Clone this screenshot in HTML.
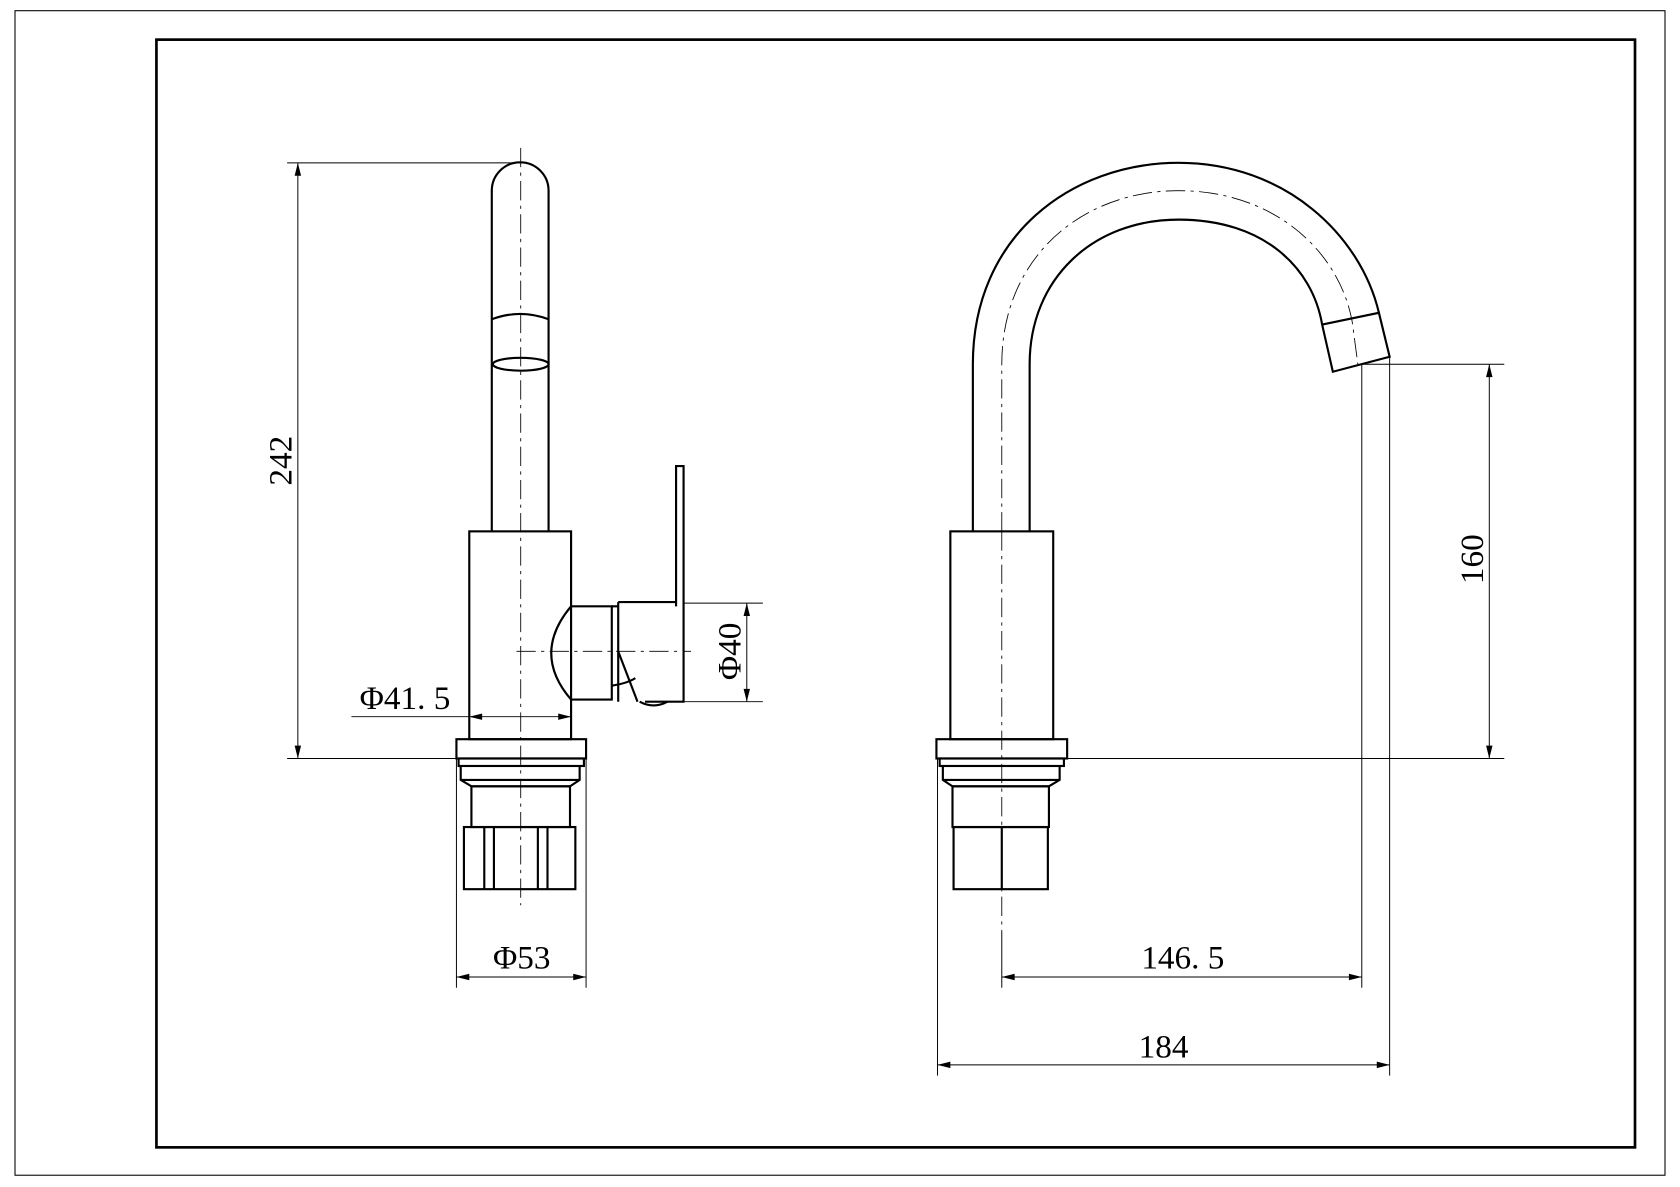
<!DOCTYPE html>
<html><head><style>html,body{margin:0;padding:0;background:#fff}svg{display:block}</style></head><body>
<svg width="1680" height="1187" viewBox="0 0 1568 1108" preserveAspectRatio="none" xmlns="http://www.w3.org/2000/svg" font-family="Liberation Serif, serif" font-size="31" fill="none" stroke="#000">
<rect x="14" y="10" width="1540" height="1087" stroke-width="1"/>
<rect x="146" y="37" width="1380" height="1034" stroke-width="2.5"/>
<!-- centerlines -->
<g stroke-width="0.8" stroke-dasharray="18,5,3,5">
<line x1="486" y1="138" x2="486" y2="845"/>
<line x1="935" y1="496" x2="935" y2="870"/>
<line x1="482" y1="608" x2="645" y2="608"/>
<path d="M935,496 V340 C935,240 1010,178 1100,178 C1190,178 1250,235 1262,300 L1268,345"/>
</g>
<!-- left view -->
<g stroke-width="2">
<path d="M459,496 V178 A26.5,26.5 0 0 1 512,178 V496"/>
<path d="M459,298 Q486,288 512,298"/>
<ellipse cx="486" cy="340" rx="26" ry="6"/>
<rect x="438" y="496" width="95" height="194"/>
<path d="M631,566 V435 H638 V655 H602"/>
<path d="M577,562 H631 M577,562 V655"/>
<path d="M533,566 H571 V653 H533 M533,566 Q496,610 533,653"/>
<path d="M571,566 H577 M577,608 L595,655 M571,640 Q585,638 593,633"/>
<path d="M597,655 Q610,662 623,655"/>
<rect x="426" y="690" width="121" height="18"/>
<rect x="428" y="708" width="117" height="7"/>
<path d="M430,715 V728 L440,734 H532 L541,728 V715 M430,728 H541"/>
<rect x="440" y="734" width="92" height="38"/>
<rect x="433" y="772" width="104" height="58"/>
<path d="M452,772 V830 M461,772 V830 M502,772 V830 M511,772 V830"/>
</g>
<!-- right view -->
<g stroke-width="2">
<rect x="887" y="496" width="96" height="194"/>
<path d="M908,496 V340 C908,220 1000,152 1100,152 C1200,152 1270,220 1287,292"/>
<path d="M961,496 V340 C961,260 1020,205 1100,205 C1180,205 1225,250 1234,303"/>
<path d="M1234,303 L1287,292 L1297,333 L1244,347 Z"/>
<rect x="874" y="690" width="122" height="18"/>
<rect x="877" y="708" width="116" height="7"/>
<path d="M880,715 V728 L889,734 H979 L989,728 V715 M880,728 H989"/>
<rect x="889" y="734" width="90" height="38"/>
<rect x="890" y="772" width="88" height="58"/>
<line x1="935" y1="772" x2="935" y2="830"/>
</g>
<!-- dimension lines -->
<g stroke-width="0.9">
<path d="M268,152 H486 M268,708 H426 M278,152 V708"/>
<path d="M328,669 H533"/>
<path d="M638,563 H712 M638,655 H712 M697,563 V655"/>
<path d="M426,708 V922 M547,708 V922 M426,912 H547"/>
<path d="M1270,340 H1404 M996,708 H1404 M1390,340 V708"/>
<path d="M1271,340 V922 M935,870 V922 M935,912 H1271"/>
<path d="M875,708 V1004 M1297,333 V1004 M875,994 H1297"/>
</g>
<g fill="#000" stroke="none">
<path d="M278,152 l-3,12 h6z M278,708 l-3,-12 h6z"/>
<path d="M438,669 l12,-3 v6z M533,669 l-12,-3 v6z"/>
<path d="M697,563 l-3,12 h6z M697,655 l-3,-12 h6z"/>
<path d="M426,912 l12,-3 v6z M547,912 l-12,-3 v6z"/>
<path d="M1390,340 l-3,12 h6z M1390,708 l-3,-12 h6z"/>
<path d="M935,912 l12,-3 v6z M1271,912 l-12,-3 v6z"/>
<path d="M875,994 l12,-3 v6z M1297,994 l-12,-3 v6z"/>
<text transform="translate(272,430) rotate(-90)" text-anchor="middle">242</text>
<text x="378" y="662" text-anchor="middle">Φ41. 5</text>
<text transform="translate(691,608) rotate(-90)" text-anchor="middle">Φ40</text>
<text x="487" y="904" text-anchor="middle">Φ53</text>
<text transform="translate(1384,522) rotate(-90)" text-anchor="middle">160</text>
<text x="1104" y="904" text-anchor="middle">146. 5</text>
<text x="1086" y="987" text-anchor="middle">184</text>
</g>
</svg>
</body></html>
